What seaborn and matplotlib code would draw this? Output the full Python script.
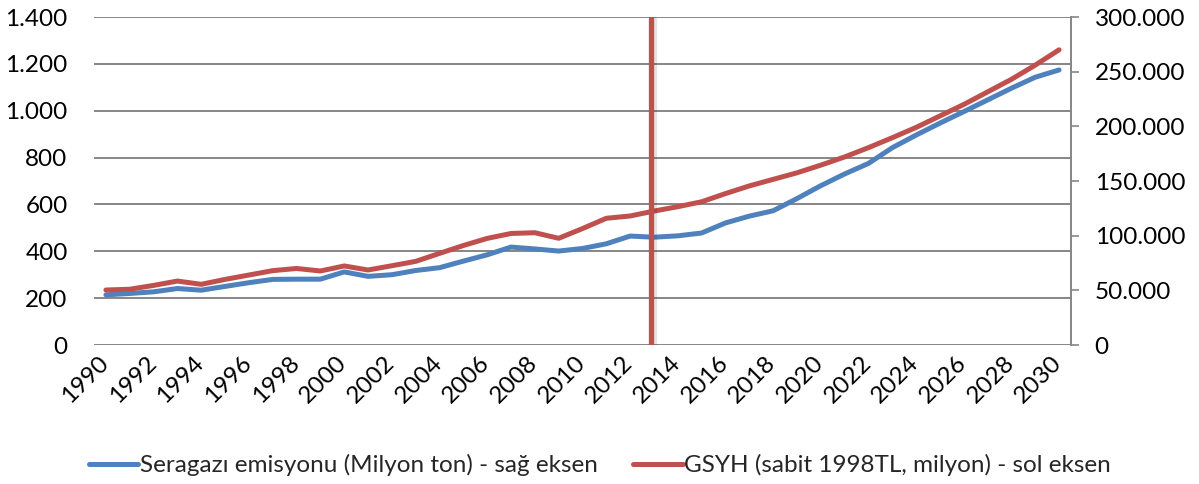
import pandas as pd
import matplotlib
matplotlib.use("Agg")
import matplotlib.pyplot as plt
import matplotlib.patheffects as pe
import matplotlib.transforms as mtransforms
from matplotlib.ticker import FuncFormatter, MultipleLocator
import seaborn as sns

years = list(range(1990, 2031))

# Seragazi emisyonu (milyon ton) - drawn against the left axis
emission = [214, 220, 227, 241, 234, 250, 266, 280, 281, 281,
            312, 293, 300, 318, 330, 358, 385, 418, 410, 401,
            412, 432, 465, 460, 466, 478, 521, 550, 573, 625,
            680, 730, 775, 842, 896, 947, 996, 1046, 1096, 1143,
            1174]

# GSYH (sabit 1998 TL, milyon) - drawn against the right axis
gdp = [50300, 51000, 54500, 58500, 55500, 60000, 64000, 68000, 70000, 67700,
       72300, 68600, 72500, 76500, 83800, 91000, 97500, 102000, 102700, 97600,
       106500, 115900, 118000, 122500, 126500, 131000, 138500, 145500, 151500, 157500,
       164500, 172000, 180500, 189600, 199000, 209500, 220000, 231500, 243000, 256000,
       270000]

marker_year = 2012.87

label_blue = "Seragazı emisyonu (Milyon ton) - sağ eksen"
label_red = "GSYH (sabit 1998TL, milyon) - sol eksen"

blue = "#4F81BD"
red = "#C0504D"
grid_col = "#868686"


def dotted(v, pos):
    return f"{int(v):,}".replace(",", ".")


sns.set_theme(style="white")
plt.rcParams['font.family'] = ['Lato', 'DejaVu Sans']

df = pd.DataFrame({"year": years, "emission": emission, "gdp": gdp})

fig = plt.figure(figsize=(11.99, 4.84), dpi=100)
ax = fig.add_axes([94 / 1199, 1 - 345 / 484, (1071 - 94) / 1199, (345 - 17) / 484])
ax2 = ax.twinx()

sns.lineplot(data=df, x="year", y="emission", ax=ax, color=blue, linewidth=3.6,
             label=label_blue, legend=False, solid_capstyle="round", zorder=3)
sns.lineplot(data=df, x="year", y="gdp", ax=ax2, color=red, linewidth=3.6,
             label=label_red, legend=False, solid_capstyle="round", zorder=3)

ax2.axvline(marker_year, ymin=0.003, ymax=0.997, color=red, linewidth=3.8,
            zorder=4, path_effects=[pe.SimpleLineShadow(offset=(2, -1), alpha=0.12),
                                    pe.Normal()])

ax.set_xlim(1989.5, 2030.5)
ax.set_ylim(0, 1400)
ax2.set_ylim(0, 300000)
ax.set_xticks(years[::2])
ax.yaxis.set_major_locator(MultipleLocator(200))
ax2.yaxis.set_major_locator(MultipleLocator(50000))
ax.yaxis.set_major_formatter(FuncFormatter(dotted))
ax2.yaxis.set_major_formatter(FuncFormatter(dotted))

ax.grid(axis="y", color=grid_col, linewidth=1.4)
ax.set_axisbelow(True)
ax.set_xlabel("")
ax.set_ylabel("")
ax2.set_ylabel("")

for a in (ax, ax2):
    for s in a.spines.values():
        s.set_visible(False)
ax2.spines["right"].set_visible(True)
ax2.spines["right"].set_color(grid_col)
ax2.spines["right"].set_linewidth(1.4)

ax.tick_params(axis="y", length=0, pad=19, labelsize=17.5, labelcolor="black")
ax2.tick_params(axis="y", right=True, length=6, width=1.2, color=grid_col,
                pad=11, labelsize=17.5, labelcolor="black")
ax.tick_params(axis="x", length=0, pad=5, labelsize=17.5, labelcolor="black")
shift = mtransforms.ScaledTranslation(-8 / 100, 0, fig.dpi_scale_trans)
for lab in ax.get_xticklabels():
    lab.set_rotation(45)
    lab.set_ha("right")
    lab.set_va("top")
    lab.set_rotation_mode("anchor")
    lab.set_transform(lab.get_transform() + shift)

h1, l1 = ax.get_legend_handles_labels()
h2, l2 = ax2.get_legend_handles_labels()
fig.legend(h1 + h2, l1 + l2, loc="center", bbox_to_anchor=(0.5, 1 - 465 / 484),
           ncol=2, frameon=False, fontsize=17.5, handlelength=2.05, handletextpad=0.05,
           columnspacing=1.45)

fig.savefig("out.png", dpi=100)
